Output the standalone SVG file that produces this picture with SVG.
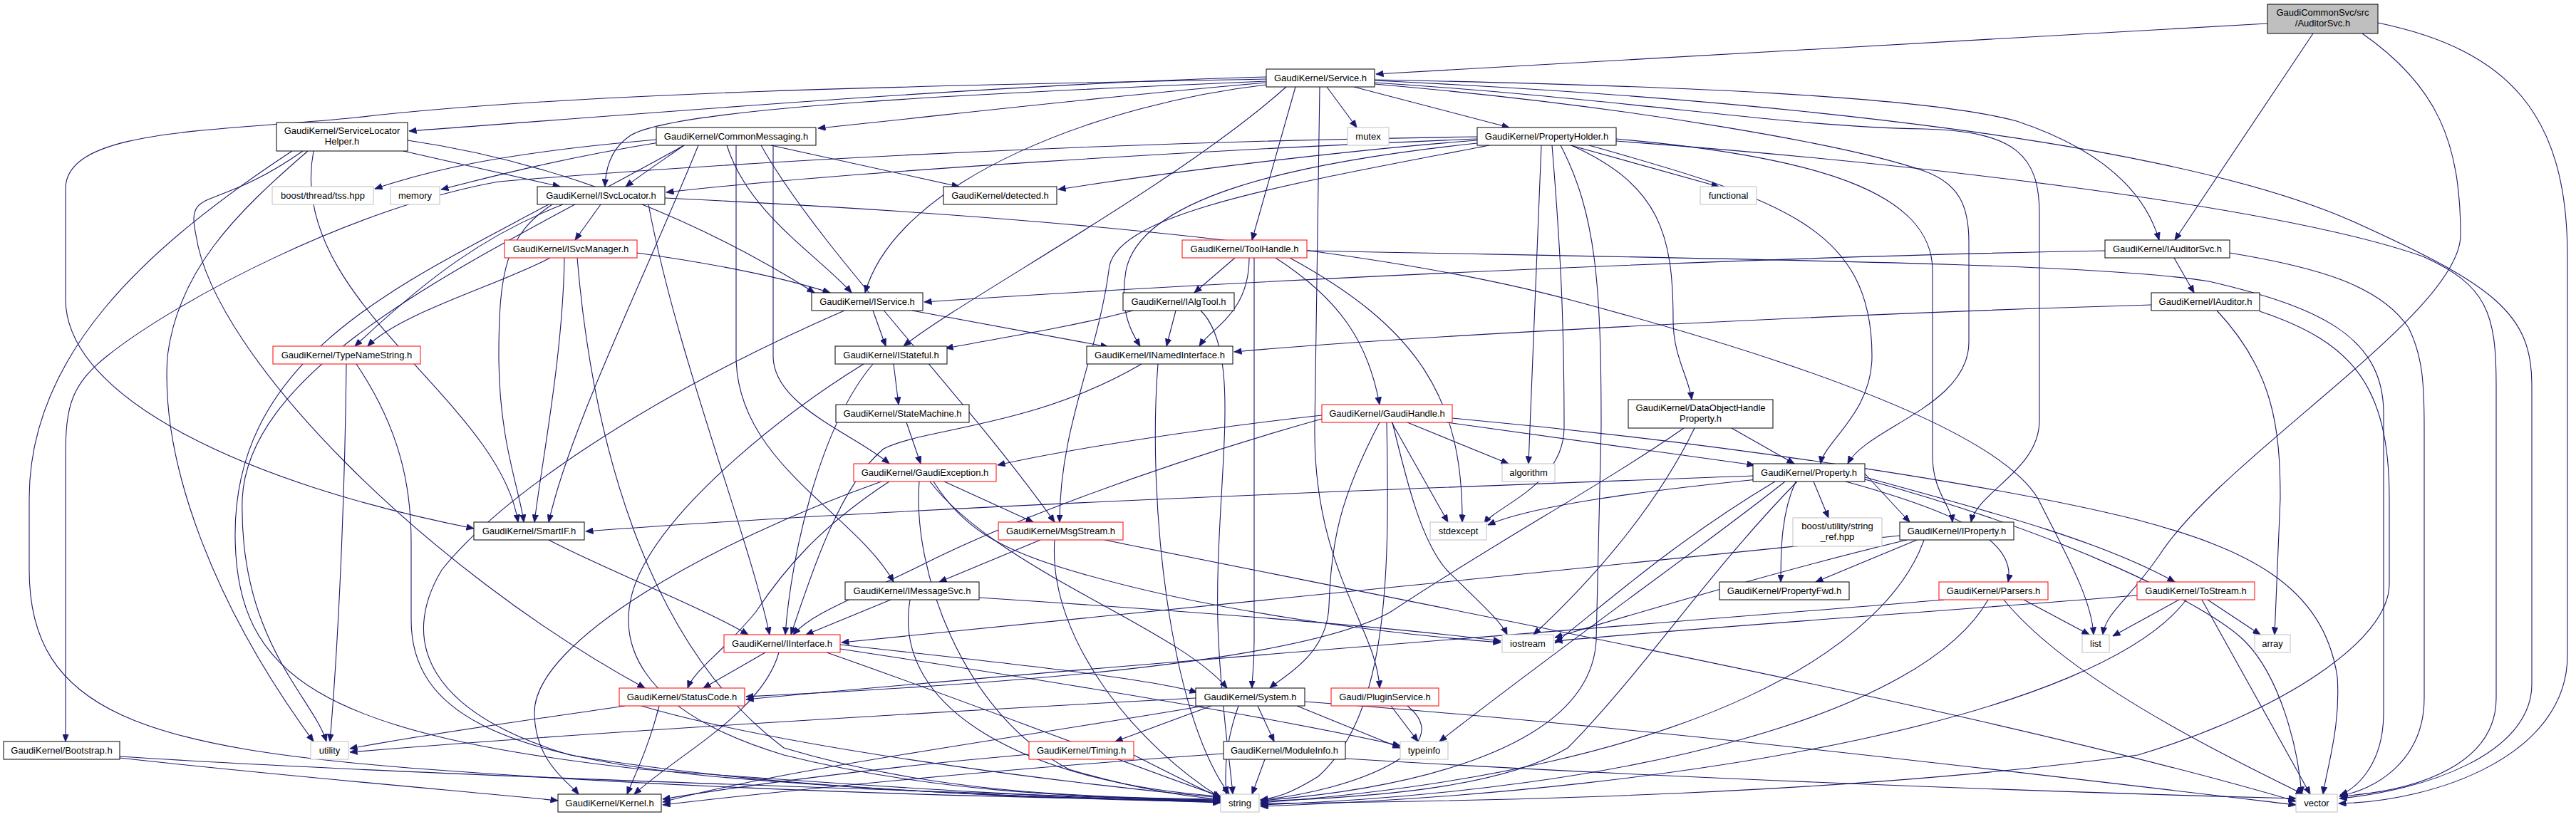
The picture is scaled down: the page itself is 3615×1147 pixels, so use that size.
<svg xmlns="http://www.w3.org/2000/svg" width="3615" height="1147" viewBox="0 0 3615 1147">
<style>
.n rect{fill:#fff;stroke:#000;stroke-width:1}
.r rect{fill:#fff;stroke:#ff0000;stroke-width:1}
.s rect{fill:#fff;stroke:#bfbfbf;stroke-width:1}
.root rect{fill:#bfbfbf;stroke:#000;stroke-width:1}
text{font-family:"Liberation Sans",Arial,Helvetica,sans-serif;font-size:13px;fill:#000;text-anchor:middle}
#edges path{fill:none;stroke:#191970;stroke-width:1.1;marker-end:url(#a)}
</style>
<defs>
<marker id="a" markerWidth="11" markerHeight="9" refX="10.5" refY="4.5" orient="auto" markerUnits="userSpaceOnUse"><path d="M0,0 L11,4.5 L0,9 z" fill="#191970" stroke="#191970" stroke-width="0.5"/></marker>
</defs>
<rect width="3615" height="1147" fill="#fff"/>
<g id="edges">
<path d="M3182,33 L1931,104"/>
<path d="M3246,47 L3052,337"/>
<path d="M3315,47 C3420,120 3453,200 3453,330 C3453,440 3120,640 3030,780 C2985,845 2955,860 2951,891"/>
<path d="M3337,32 C3520,70 3603,160 3603,360 L3603,920 C3603,1060 3420,1125 3282,1128"/>
<path d="M1777,108 C1400,118 900,160 574,184"/>
<path d="M1777,116 C1500,140 1300,165 1148,180"/>
<path d="M1862,122 L1904,179"/>
<path d="M1900,122 L2118,179"/>
<path d="M1929,112 C2350,120 2700,135 2830,170 C2950,210 3010,270 3030,337"/>
<path d="M1929,113 C2500,140 3050,200 3300,310 C3500,400 3553,440 3553,540 L3553,960 C3553,1060 3400,1110 3283,1121"/>
<path d="M1929,116 C2300,140 2500,178 2700,181 C2830,184 2862,220 2862,300 L2862,590 C2862,660 2775,690 2766,733"/>
<path d="M1929,118 C2300,150 2600,205 2700,240 C2750,258 2763,290 2763,340 L2763,480 C2763,570 2620,600 2593,651"/>
<path d="M1852,122 L1845,600 C1843,800 1932,880 1936,966"/>
<path d="M1818,122 L1757,337"/>
<path d="M1805,122 C1650,260 1350,420 1268,486"/>
<path d="M1777,119 C1550,145 1260,250 1214,411"/>
<path d="M1777,114 C1400,130 950,150 885,190 C862,205 850,230 849,262"/>
<path d="M1777,111 C1300,120 800,130 500,165 C300,185 92,180 92,265 L92,420 C92,560 350,680 665,742"/>
<path d="M566,212 L786,262"/>
<path d="M572,197 C800,230 1000,320 1143,411"/>
<path d="M440,212 C400,420 700,560 727,733"/>
<path d="M425,212 C300,300 260,260 275,330 C300,500 600,800 905,966"/>
<path d="M410,212 C200,350 41,500 41,700 L41,800 C41,1000 200,1050 600,1080 C1000,1110 1400,1120 1713,1124"/>
<path d="M432,212 C330,300 250,380 235,500 C225,650 300,850 440,1041"/>
<path d="M921,196 C700,215 600,240 526,265"/>
<path d="M925,200 C800,220 700,245 619,266"/>
<path d="M960,204 C930,225 900,245 878,262"/>
<path d="M1082,204 L1346,262"/>
<path d="M1020,204 C1050,300 1150,360 1195,411"/>
<path d="M1033,204 L1033,500 C1033,650 1200,720 1254,817"/>
<path d="M1068,204 C1150,350 1350,550 1480,733"/>
<path d="M1085,204 L1085,500 C1085,570 1200,610 1248,651"/>
<path d="M980,204 C900,400 800,600 770,733"/>
<path d="M960,204 C700,350 350,500 340,700 C335,900 440,980 458,1041"/>
<path d="M2073,192 C1500,200 1000,230 700,255 C500,290 250,420 150,500 C100,540 92,570 92,640 L92,1041"/>
<path d="M2073,195 C1700,210 1200,240 935,270"/>
<path d="M2073,197 C1900,210 1650,240 1485,266"/>
<path d="M2204,204 L2412,262"/>
<path d="M2163,204 L2145,651"/>
<path d="M2178,204 C2190,350 2195,450 2195,600 C2195,680 2100,710 2083,735"/>
<path d="M2205,204 C2330,260 2348,330 2348,450 C2348,500 2370,530 2374,561"/>
<path d="M2230,204 C2500,280 2627,320 2627,500 C2627,580 2560,620 2555,651"/>
<path d="M2268,195 C2550,220 2712,270 2712,380 L2712,640 C2712,690 2738,710 2740,733"/>
<path d="M2268,198 C2700,230 3200,290 3400,360 C3490,400 3503,440 3503,540 L3503,980 C3503,1070 3400,1110 3283,1118"/>
<path d="M2090,204 C1800,260 1560,300 1556,380 C1540,500 1487,600 1487,733"/>
<path d="M2073,201 C1800,230 1600,280 1580,380 C1570,440 1590,470 1600,486"/>
<path d="M2190,204 C2240,300 2247,400 2247,600 L2240,900 C2230,1060 1950,1110 1769,1124"/>
<path d="M843,287 L807,337"/>
<path d="M790,287 C680,330 600,390 498,486"/>
<path d="M775,287 C710,330 700,380 700,500 C700,620 730,690 735,733"/>
<path d="M910,287 C950,500 1050,750 1080,891"/>
<path d="M770,287 C560,400 330,500 330,750 C330,950 450,1030 900,1080 C1300,1110 1500,1120 1713,1127"/>
<path d="M933,278 C1400,300 1900,340 2200,420 C2500,500 2800,600 2860,700 C2900,780 2935,840 2938,891"/>
<path d="M894,355 C1000,370 1100,390 1165,411"/>
<path d="M772,362 C700,400 560,440 516,486"/>
<path d="M792,362 C790,500 760,650 750,733"/>
<path d="M810,362 C830,600 900,900 1100,1050 C1300,1110 1500,1120 1713,1122"/>
<path d="M1733,362 L1676,411"/>
<path d="M1753,362 C1753,440 1700,460 1683,486"/>
<path d="M1790,362 C1880,420 1920,480 1936,568"/>
<path d="M1760,362 L1760,900 C1760,940 1757,950 1757,966"/>
<path d="M1810,362 C1990,460 2053,560 2052,733"/>
<path d="M1834,352 C2500,365 2950,370 3100,395 C3250,430 3345,470 3345,580 L3345,1000 C3345,1080 3300,1110 3284,1116"/>
<path d="M3051,362 L3079,411"/>
<path d="M2954,352 C2500,360 1800,390 1297,424"/>
<path d="M3129,355 C3250,375 3340,400 3380,460 C3400,500 3402,540 3402,600 L3402,980 C3402,1070 3330,1110 3284,1117"/>
<path d="M1225,436 L1243,486"/>
<path d="M1280,436 L1555,487"/>
<path d="M1185,436 C900,560 700,700 620,800 C560,900 600,1000 800,1060 C1100,1110 1450,1120 1713,1125"/>
<path d="M1590,436 C1500,460 1400,475 1327,489"/>
<path d="M1650,436 L1637,486"/>
<path d="M1685,436 C1750,500 1700,700 1710,900 C1715,1000 1725,1060 1730,1115"/>
<path d="M3019,428 C2600,440 2000,470 1732,494"/>
<path d="M3111,436 C3190,520 3200,600 3200,700 L3192,891"/>
<path d="M3171,437 C3300,480 3353,540 3353,700 L3353,820 C3353,900 3200,1000 3000,1060 C2600,1115 2100,1125 1769,1128"/>
<path d="M486,511 C484,700 475,900 463,1041"/>
<path d="M500,511 C560,600 577,680 577,760 L577,870 C577,1000 700,1060 1000,1090 C1300,1115 1500,1122 1713,1126"/>
<path d="M1254,511 L1261,568"/>
<path d="M1225,511 C1150,600 1110,780 1102,891"/>
<path d="M1212,511 C1100,580 950,700 900,800 C850,900 900,1000 1100,1060 C1300,1110 1500,1120 1713,1123"/>
<path d="M1602,511 C1450,600 1300,600 1240,630 C1180,680 1140,800 1110,891"/>
<path d="M1625,511 C1610,700 1640,1000 1725,1115"/>
<path d="M1272,593 L1292,651"/>
<path d="M1855,583 C1700,600 1500,630 1400,653"/>
<path d="M1855,588 C1600,660 1400,740 1300,790 C1200,840 1140,860 1113,891"/>
<path d="M1975,593 L2117,651"/>
<path d="M2030,593 L2462,653"/>
<path d="M1953,593 L2032,733"/>
<path d="M1954,593 C1975,680 1995,760 2030,800 C2070,840 2105,870 2115,891"/>
<path d="M1936,593 C1880,700 1868,760 1865,850 C1863,920 1800,950 1782,966"/>
<path d="M2038,587 C2400,620 2800,680 3000,730 C3150,770 3260,820 3280,950 C3285,1020 3265,1080 3260,1115"/>
<path d="M1946,593 C1950,800 1950,1000 1850,1090 C1810,1115 1790,1120 1769,1123"/>
<path d="M2430,601 L2518,651"/>
<path d="M2363,601 C2250,680 2100,760 1950,860 C1800,940 1300,965 1047,978"/>
<path d="M2378,601 C2330,700 2250,800 2152,891"/>
<path d="M1325,676 L1450,733"/>
<path d="M1248,676 C1150,740 1100,800 1060,860 C1010,920 975,940 965,966"/>
<path d="M1305,676 C1400,800 1650,880 1722,966"/>
<path d="M1237,676 C1000,760 750,900 750,1000 C750,1070 800,1100 812,1115"/>
<path d="M1290,676 C1280,800 1350,1000 1500,1080 C1600,1110 1680,1120 1713,1122"/>
<path d="M1310,676 C1350,740 1400,770 1500,800 C1700,860 1950,890 2106,902"/>
<path d="M2460,668 C2000,685 1300,710 822,746"/>
<path d="M2466,673 C2300,690 2150,710 2088,737"/>
<path d="M2617,665 L2680,733"/>
<path d="M2545,676 L2566,727"/>
<path d="M2520,676 C2500,720 2499,770 2499,817"/>
<path d="M2590,676 C2750,720 2830,760 2818,817"/>
<path d="M2617,670 C2800,720 2950,760 3052,817"/>
<path d="M2491,676 C2350,760 2250,850 2182,903"/>
<path d="M2505,676 C2400,760 2200,900 2020,1041"/>
<path d="M2522,676 C2400,800 2300,950 2200,1050 C2100,1110 1900,1120 1769,1125"/>
<path d="M2617,673 C2900,750 3100,850 3150,900 C3200,950 3225,1050 3230,1115"/>
<path d="M770,758 C850,800 980,850 1050,891"/>
<path d="M1460,758 L1318,817"/>
<path d="M1480,758 C1470,900 1600,1050 1713,1120"/>
<path d="M1550,758 C2000,850 2800,1000 3222,1125"/>
<path d="M1250,842 L1131,891"/>
<path d="M1277,842 C1250,1000 1450,1100 1713,1118"/>
<path d="M1374,839 C1700,860 1950,880 2106,900"/>
<path d="M2840,842 L2932,891"/>
<path d="M2812,842 C2900,950 3100,1050 3232,1115"/>
<path d="M2790,842 C2700,1000 2300,1110 1769,1130"/>
<path d="M2728,842 C2400,870 1600,930 1047,982"/>
<path d="M3058,842 L2965,893"/>
<path d="M3098,842 L3172,891"/>
<path d="M3090,842 L3242,1115"/>
<path d="M2999,836 C2700,860 2400,880 2182,900"/>
<path d="M3068,842 C2950,1000 2400,1110 1769,1132"/>
<path d="M1074,916 L987,966"/>
<path d="M1179,905 C1400,930 1600,950 1680,972"/>
<path d="M1093,916 C1070,1000 950,1060 890,1115"/>
<path d="M1179,911 C1500,960 1800,1010 1965,1047"/>
<path d="M1160,916 C1400,1000 1600,1080 1713,1118"/>
<path d="M877,991 C750,1010 600,1030 491,1051"/>
<path d="M925,991 C910,1050 890,1090 880,1115"/>
<path d="M900,991 C1100,1050 1500,1100 1713,1120"/>
<path d="M1678,980 C1300,1000 800,1030 491,1056"/>
<path d="M1700,991 L1565,1041"/>
<path d="M1765,991 L1788,1041"/>
<path d="M1820,991 L1965,1050"/>
<path d="M1738,991 C1720,1040 1718,1080 1721,1115"/>
<path d="M1690,991 C1400,1040 1100,1080 930,1126"/>
<path d="M1831,985 C2300,1020 2800,1080 3222,1130"/>
<path d="M1444,1059 C1200,1080 1000,1110 930,1122"/>
<path d="M1591,1060 C1650,1090 1690,1110 1713,1120"/>
<path d="M1717,1058 C1400,1080 1100,1110 930,1130"/>
<path d="M1775,1066 L1757,1115"/>
<path d="M1888,1065 C2300,1090 2800,1110 3222,1121"/>
<path d="M1952,991 L1990,1041"/>
<path d="M1975,991 C2050,1050 1900,1110 1769,1123"/>
<path d="M168,1064 C400,1090 700,1115 783,1124"/>
<path d="M168,1062 C600,1090 1300,1110 1713,1125"/>
<path d="M2690,758 L2548,817"/>
<path d="M2666,752 C2200,800 1600,860 1181,902"/>
<path d="M2676,758 C2500,800 2300,860 2182,895"/>
<path d="M2700,758 C2650,900 2400,1080 1769,1127"/>
</g>
<g id="n_auditorsvc" class="root"><rect x="3182" y="6" width="155" height="41"/><text x="3259.5" y="22">GaudiCommonSvc/src</text><text x="3259.5" y="37">/AuditorSvc.h</text></g>
<g id="n_service" class="n"><rect x="1777" y="97" width="152" height="25"/><text x="1853" y="114">GaudiKernel/Service.h</text></g>
<g id="n_slhelper" class="n"><rect x="388" y="172" width="184" height="40"/><text x="480" y="188">GaudiKernel/ServiceLocator</text><text x="480" y="203">Helper.h</text></g>
<g id="n_commonmsg" class="n"><rect x="921" y="179" width="224" height="25"/><text x="1033" y="196">GaudiKernel/CommonMessaging.h</text></g>
<g id="n_mutex" class="s"><rect x="1891" y="179" width="58" height="25"/><text x="1920" y="196">mutex</text></g>
<g id="n_propholder" class="n"><rect x="2073" y="179" width="195" height="25"/><text x="2170.5" y="196">GaudiKernel/PropertyHolder.h</text></g>
<g id="n_tss" class="s"><rect x="382" y="262" width="142" height="25"/><text x="453" y="279">boost/thread/tss.hpp</text></g>
<g id="n_memory" class="s"><rect x="548" y="262" width="69" height="25"/><text x="582.5" y="279">memory</text></g>
<g id="n_isvclocator" class="n"><rect x="754" y="262" width="179" height="25"/><text x="843.5" y="279">GaudiKernel/ISvcLocator.h</text></g>
<g id="n_detected" class="n"><rect x="1324" y="262" width="159" height="25"/><text x="1403.5" y="279">GaudiKernel/detected.h</text></g>
<g id="n_functional" class="s"><rect x="2386" y="262" width="79" height="25"/><text x="2425.5" y="279">functional</text></g>
<g id="n_isvcmanager" class="r"><rect x="708" y="337" width="186" height="25"/><text x="801" y="354">GaudiKernel/ISvcManager.h</text></g>
<g id="n_toolhandle" class="r"><rect x="1659" y="337" width="175" height="25"/><text x="1746.5" y="354">GaudiKernel/ToolHandle.h</text></g>
<g id="n_iauditorsvc" class="n"><rect x="2954" y="337" width="175" height="25"/><text x="3041.5" y="354">GaudiKernel/IAuditorSvc.h</text></g>
<g id="n_iservice" class="n"><rect x="1139" y="411" width="156" height="25"/><text x="1217" y="428">GaudiKernel/IService.h</text></g>
<g id="n_ialgtool" class="n"><rect x="1576" y="411" width="156" height="25"/><text x="1654" y="428">GaudiKernel/IAlgTool.h</text></g>
<g id="n_iauditor" class="n"><rect x="3019" y="411" width="152" height="25"/><text x="3095" y="428">GaudiKernel/IAuditor.h</text></g>
<g id="n_typename" class="r"><rect x="383" y="486" width="207" height="25"/><text x="486.5" y="503">GaudiKernel/TypeNameString.h</text></g>
<g id="n_istateful" class="n"><rect x="1172" y="486" width="157" height="25"/><text x="1250.5" y="503">GaudiKernel/IStateful.h</text></g>
<g id="n_inamed" class="n"><rect x="1525" y="486" width="205" height="25"/><text x="1627.5" y="503">GaudiKernel/INamedInterface.h</text></g>
<g id="n_statemachine" class="n"><rect x="1173" y="568" width="187" height="25"/><text x="1266.5" y="585">GaudiKernel/StateMachine.h</text></g>
<g id="n_gaudihandle" class="r"><rect x="1855" y="568" width="183" height="25"/><text x="1946.5" y="585">GaudiKernel/GaudiHandle.h</text></g>
<g id="n_dohp" class="n"><rect x="2285" y="561" width="203" height="40"/><text x="2386.5" y="577">GaudiKernel/DataObjectHandle</text><text x="2386.5" y="592">Property.h</text></g>
<g id="n_gaudiexc" class="r"><rect x="1198" y="651" width="200" height="25"/><text x="1298" y="668">GaudiKernel/GaudiException.h</text></g>
<g id="n_algorithm" class="s"><rect x="2108" y="651" width="74" height="25"/><text x="2145" y="668">algorithm</text></g>
<g id="n_property" class="n"><rect x="2460" y="651" width="157" height="25"/><text x="2538.5" y="668">GaudiKernel/Property.h</text></g>
<g id="n_smartif" class="n"><rect x="665" y="733" width="155" height="25"/><text x="742.5" y="750">GaudiKernel/SmartIF.h</text></g>
<g id="n_msgstream" class="r"><rect x="1401" y="733" width="175" height="25"/><text x="1488.5" y="750">GaudiKernel/MsgStream.h</text></g>
<g id="n_stdexcept" class="s"><rect x="2007" y="733" width="79" height="25"/><text x="2046.5" y="750">stdexcept</text></g>
<g id="n_strref" class="s"><rect x="2516" y="727" width="125" height="40"/><text x="2578.5" y="743">boost/utility/string</text><text x="2578.5" y="758">_ref.hpp</text></g>
<g id="n_iproperty" class="n"><rect x="2666" y="733" width="160" height="25"/><text x="2746" y="750">GaudiKernel/IProperty.h</text></g>
<g id="n_imessagesvc" class="n"><rect x="1186" y="817" width="188" height="25"/><text x="1280" y="834">GaudiKernel/IMessageSvc.h</text></g>
<g id="n_propfwd" class="n"><rect x="2413" y="817" width="182" height="25"/><text x="2504" y="834">GaudiKernel/PropertyFwd.h</text></g>
<g id="n_parsers" class="r"><rect x="2721" y="817" width="153" height="25"/><text x="2797.5" y="834">GaudiKernel/Parsers.h</text></g>
<g id="n_tostream" class="r"><rect x="2999" y="817" width="165" height="25"/><text x="3081.5" y="834">GaudiKernel/ToStream.h</text></g>
<g id="n_iinterface" class="r"><rect x="1016" y="891" width="163" height="25"/><text x="1097.5" y="908">GaudiKernel/IInterface.h</text></g>
<g id="n_iostream" class="s"><rect x="2108" y="891" width="72" height="25"/><text x="2144" y="908">iostream</text></g>
<g id="n_list" class="s"><rect x="2922" y="891" width="38" height="25"/><text x="2941" y="908">list</text></g>
<g id="n_array" class="s"><rect x="3164" y="891" width="50" height="25"/><text x="3189" y="908">array</text></g>
<g id="n_statuscode" class="r"><rect x="869" y="966" width="176" height="25"/><text x="957" y="983">GaudiKernel/StatusCode.h</text></g>
<g id="n_system" class="n"><rect x="1678" y="966" width="153" height="25"/><text x="1754.5" y="983">GaudiKernel/System.h</text></g>
<g id="n_pluginsvc" class="r"><rect x="1868" y="966" width="151" height="25"/><text x="1943.5" y="983">Gaudi/PluginService.h</text></g>
<g id="n_bootstrap" class="n"><rect x="5" y="1041" width="163" height="25"/><text x="86.5" y="1058">GaudiKernel/Bootstrap.h</text></g>
<g id="n_utility" class="s"><rect x="436" y="1041" width="53" height="25"/><text x="462.5" y="1058">utility</text></g>
<g id="n_timing" class="r"><rect x="1444" y="1041" width="147" height="25"/><text x="1517.5" y="1058">GaudiKernel/Timing.h</text></g>
<g id="n_moduleinfo" class="n"><rect x="1717" y="1041" width="171" height="25"/><text x="1802.5" y="1058">GaudiKernel/ModuleInfo.h</text></g>
<g id="n_typeinfo" class="s"><rect x="1965" y="1041" width="67" height="25"/><text x="1998.5" y="1058">typeinfo</text></g>
<g id="n_kernel" class="n"><rect x="783" y="1115" width="145" height="25"/><text x="855.5" y="1132">GaudiKernel/Kernel.h</text></g>
<g id="n_string" class="s"><rect x="1713" y="1115" width="54" height="25"/><text x="1740" y="1132">string</text></g>
<g id="n_vector" class="s"><rect x="3222" y="1115" width="58" height="25"/><text x="3251" y="1132">vector</text></g>
</svg>
